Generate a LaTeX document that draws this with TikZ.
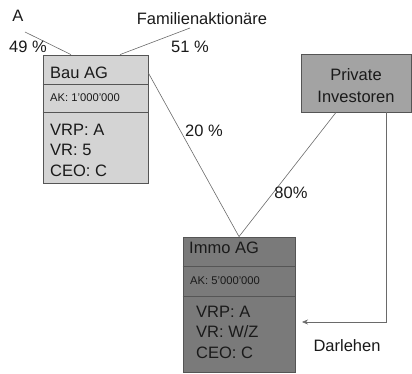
\documentclass[tikz,border=0pt]{standalone}
\usepackage{fontspec}
\setmainfont{Liberation Sans}
\usetikzlibrary{arrows.meta}
\definecolor{txt}{HTML}{1A1A1A}
\definecolor{bord}{HTML}{555555}
\definecolor{lgray}{HTML}{D4D4D4}
\definecolor{dgray}{HTML}{7A7A7A}
\definecolor{mgray}{HTML}{A3A3A3}
\definecolor{wire}{HTML}{6A6A6A}
\begin{document}
\begin{tikzpicture}[x=1pt,y=-1pt,
  box/.style={draw=bord, line width=0.8pt, inner sep=0pt},
  big/.style={font=\fontsize{16.5}{20.5}\selectfont, text=txt, inner sep=0pt},
  small/.style={font=\fontsize{11.2}{13}\selectfont, text=txt, inner sep=0pt},
  lbl/.style={font=\fontsize{16.5}{19}\selectfont, text=txt, inner sep=0pt},
  wireln/.style={draw=wire, line width=0.6pt}]
\useasboundingbox (0,0) rectangle (412,374);
% boxes
\node[box, fill=lgray, minimum width=105pt, minimum height=128pt] (bau) at (95.5,119) {};
\node[box, fill=dgray, minimum width=112pt, minimum height=135pt] (immo) at (239,304.5) {};
\node[box, fill=mgray, minimum width=110pt, minimum height=58pt] (priv) at (356,83) {};
% dividers
\draw[draw=bord, line width=0.8pt] (bau.west |- 0,84) -- (bau.east |- 0,84);
\draw[draw=bord, line width=0.8pt] (bau.west |- 0,112) -- (bau.east |- 0,112);
\draw[draw=bord, line width=0.8pt] (immo.west |- 0,266) -- (immo.east |- 0,266);
\draw[draw=bord, line width=0.8pt] (immo.west |- 0,296) -- (immo.east |- 0,296);
% texts Bau AG
\node[big, anchor=west] (bauname) at (50,73) {Bau AG};
\node[small, anchor=west] (bauak) at (50,98) {AK: 1'000'000};
\node[big, anchor=west, align=left] (bauvr) at (50,150) {VRP: A\\VR: 5\\CEO: C};
% texts Immo AG
\node[big, anchor=west] (immoname) at (189,248) {Immo AG};
\node[small, anchor=west] (immoak) at (190,281) {AK: 5'000'000};
\node[big, anchor=west, align=left] (immovr) at (196,332) {VRP: A\\VR: W/Z\\CEO: C};
% Private
\node[big, align=center, font=\fontsize{16.5}{22}\selectfont] (privt) at (356,86) {Private\\Investoren};
% top labels
\node[lbl] (A) at (18,16) {A};
\node[lbl] (fam) at (202,19) {Familienaktionäre};
\coordinate (aend) at (25,32);
\coordinate (fend) at (190,28);
\draw[wireln] (aend) -- (bau.north west -| 71,0);
\draw[wireln] (fend) -- (bau.north west -| 120,0);
\node[lbl] (p49) at (28,47) {49 \%};
\node[lbl] (p51) at (190,47) {51 \%};
% ownership
\draw[wireln] (bau.north east |- 0,73) -- (immo.north);
\draw[wireln] (priv.south west -| 336,0) -- (immo.north);
\node[lbl] (p20) at (204,131) {20 \%};
\node[lbl] (p80) at (291,193) {80\%};
% loan
\coordinate (loanend) at (302,322);
\draw[wireln, -{Stealth[length=6pt,width=5pt]}] (priv.south west -| 386,0) |- (loanend);
\node[lbl] (darl) at (347,346) {Darlehen};
\end{tikzpicture}
\end{document}
